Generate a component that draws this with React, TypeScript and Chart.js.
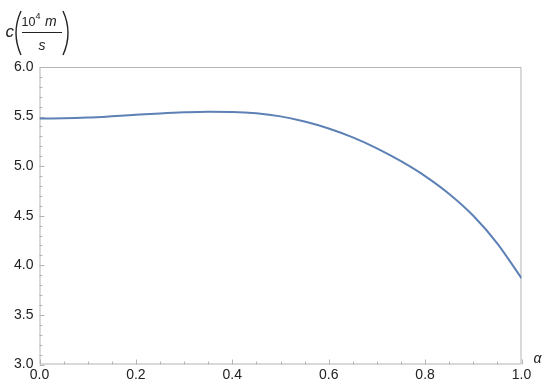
import React, { useEffect, useRef } from "react";
import { Chart, registerables } from "chart.js";

Chart.register(...registerables);

const alpha = [0, 0.05, 0.1, 0.15, 0.2, 0.25, 0.3, 0.35, 0.4, 0.45, 0.5, 0.55, 0.6, 0.65, 0.7, 0.75, 0.8, 0.85, 0.9, 0.95, 1.0];
const speed = [5.48, 5.482, 5.49, 5.503, 5.518, 5.532, 5.543, 5.549, 5.547, 5.533, 5.502, 5.45, 5.38, 5.29, 5.18, 5.05, 4.9, 4.72, 4.5, 4.22, 3.87];
const xMajor = [0, 0.2, 0.4, 0.6, 0.8, 1.0];
const yMajor = [3.0, 3.5, 4.0, 4.5, 5.0, 5.5, 6.0];

const FONT = "'Liberation Sans', Arial, sans-serif";
const AXIS = "#b4b4b4";
const TEXT = "#222222";

const framePlugin = {
  id: "frame",
  beforeDatasetsDraw(chart: any) {
    const { ctx, chartArea: a, scales } = chart;
    const xs = scales.x;
    const ys = scales.y;
    ctx.save();
    ctx.strokeStyle = AXIS;
    ctx.lineWidth = 1;
    ctx.beginPath();
    ctx.rect(a.left + 0.5, a.top + 0.5, a.right - a.left - 1, a.bottom - a.top - 1);
    ctx.stroke();
    ctx.beginPath();
    for (let i = 0; i <= 20; i++) {
      const v = i * 0.05;
      const px = Math.round(xs.getPixelForValue(v)) + 0.5;
      const major = i % 4 === 0;
      const len = major ? 5 : 3;
      ctx.moveTo(px, a.bottom);
      ctx.lineTo(px, a.bottom - len);
    }
    for (let i = 0; i <= 30; i++) {
      const v = 3 + i * 0.1;
      const py = Math.round(ys.getPixelForValue(v)) + 0.5;
      const major = i % 5 === 0;
      const len = major ? 5 : 3;
      ctx.moveTo(a.left, py);
      ctx.lineTo(a.left + len, py);
    }
    ctx.stroke();
    ctx.restore();
  },
  afterDraw(chart: any) {
    const { ctx, chartArea: a } = chart;
    ctx.save();
    ctx.fillStyle = TEXT;
    ctx.strokeStyle = TEXT;
    ctx.textBaseline = "alphabetic";
    ctx.textAlign = "left";
    // y title
    ctx.font = `italic 17px ${FONT}`;
    ctx.fillText("c", 5.5, 36.5);
    ctx.lineWidth = 1.4;
    ctx.beginPath();
    ctx.moveTo(21, 11);
    ctx.quadraticCurveTo(11, 33, 21, 55);
    ctx.stroke();
    ctx.beginPath();
    ctx.moveTo(63, 11);
    ctx.quadraticCurveTo(73, 33, 63, 55);
    ctx.stroke();
    ctx.font = `12.5px ${FONT}`;
    ctx.fillText("10", 21.5, 26);
    ctx.font = `9px ${FONT}`;
    ctx.fillText("4", 35.5, 19);
    ctx.font = `italic 14px ${FONT}`;
    ctx.fillText("m", 45, 26);
    ctx.fillText("s", 38.5, 50);
    ctx.lineWidth = 1;
    ctx.beginPath();
    ctx.moveTo(22, 32.5);
    ctx.lineTo(62, 32.5);
    ctx.stroke();
    // x title
    ctx.font = `italic 14px ${FONT}`;
    ctx.fillText("\u03b1", a.right + 12, a.bottom - 2);
    ctx.restore();
  },
};

export default function App() {
  const ref = useRef<HTMLCanvasElement | null>(null);
  useEffect(() => {
    if (!ref.current) return;
    const chart = new Chart(ref.current, {
      type: "line",
      data: {
        datasets: [
          {
            data: alpha.map((a, i) => ({ x: a, y: speed[i] })),
            borderColor: "#5e81b5",
            borderWidth: 2,
            pointRadius: 0,
            cubicInterpolationMode: "monotone",
            fill: false,
          },
        ],
      },
      options: {
        animation: false,
        responsive: false,
        maintainAspectRatio: false,
        layout: { padding: { top: 67, right: 28.5, left: 0, bottom: 0 } },
        plugins: { legend: { display: false }, tooltip: { enabled: false } },
        scales: {
          x: {
            type: "linear",
            min: 0,
            max: 1,
            afterBuildTicks: (s: any) => {
              s.ticks = xMajor.map((v) => ({ value: v }));
            },
            afterFit: (s: any) => {
              s.height = 25.5;
            },
            ticks: {
              callback: (v: any) => Number(v).toFixed(1),
              font: { size: 14, family: FONT },
              color: TEXT,
              padding: 2,
              maxRotation: 0,
              autoSkip: false,
            },
            grid: { display: false, drawTicks: false },
            border: { display: false },
          },
          y: {
            type: "linear",
            min: 3,
            max: 6,
            afterBuildTicks: (s: any) => {
              s.ticks = yMajor.map((v) => ({ value: v }));
            },
            afterFit: (s: any) => {
              s.width = 39.5;
            },
            ticks: {
              callback: (v: any) => Number(v).toFixed(1),
              font: { size: 14, family: FONT },
              color: TEXT,
              padding: 6,
              autoSkip: false,
            },
            grid: { display: false, drawTicks: false },
            border: { display: false },
          },
        },
      },
      plugins: [framePlugin],
    } as any);
    return () => chart.destroy();
  }, []);
  return (
    <div style={{ position: "fixed", left: 0, top: 0, width: 550, height: 390, background: "#fff" }}>
      <canvas ref={ref} width={550} height={390} style={{ width: 550, height: 390 }} />
    </div>
  );
}
